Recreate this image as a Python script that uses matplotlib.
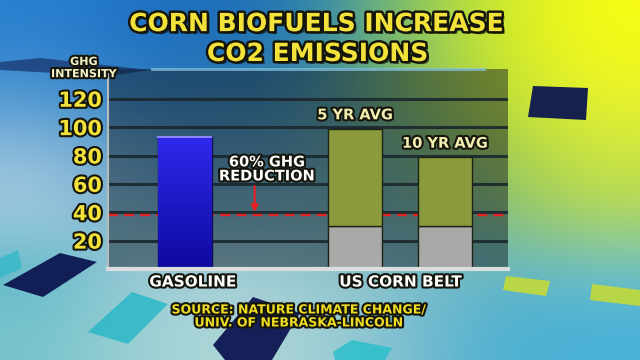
import numpy as np
import matplotlib
matplotlib.use("Agg")
import matplotlib.pyplot as plt
import matplotlib.patheffects as pe
from matplotlib.colors import to_rgb
from matplotlib.patches import Polygon

plt.rcParams['font.family'] = ['DejaVu Sans']

# ---------------- data ----------------
title_lines = ["CORN BIOFUELS INCREASE", "CO2 EMISSIONS"]
y_label_lines = ["GHG", "INTENSITY"]
y_ticks = [20, 40, 60, 80, 100, 120]
gasoline_value = [93]
corn_labels = ["5 YR AVG", "10 YR AVG"]
corn_base = [30, 30]        # grey lower part
corn_top = [69, 49]         # olive upper part
target_level = 38           # 60% reduction line
category_labels = ["GASOLINE", "US CORN BELT"]
note_lines = ["60% GHG", "REDUCTION"]
source_lines = ["SOURCE: NATURE CLIMATE CHANGE/", "UNIV. OF NEBRASKA-LINCOLN"]

# ---------------- figure ----------------
fig = plt.figure(figsize=(6.4, 3.6), dpi=100)

# background gradient (decoration)
grid_hex = [
    ["#2a80d0", "#1f72c4", "#1c6cb8", "#2f86b0", "#8cc860", "#d4ec28", "#f6fc14"],
    ["#4a94d0", "#2c7cc0", "#2a74b0", "#3f8ca8", "#88c058", "#c8e434", "#ecf42a"],
    ["#8cbcdc", "#5c9cc8", "#4f90b8", "#5a9cb0", "#78b478", "#a8d048", "#d0e840"],
    ["#a8cce0", "#78b0cc", "#6aa8c0", "#74b0b8", "#6aa8a8", "#8cc070", "#b4d858"],
    ["#5cb8c8", "#a0ccd8", "#a8d0d8", "#98c8d0", "#80c0cc", "#64b4c4", "#70c0c8"],
    ["#78c4cc", "#9cd0d4", "#b0d8d8", "#a4d0d4", "#78bcd0", "#4cb0d0", "#48b0d8"],
]
grid = np.array([[to_rgb(c) for c in row] for row in grid_hex])
bg = fig.add_axes([0, 0, 1, 1])
bg.imshow(grid, extent=[0, 640, 360, 0], aspect='auto', interpolation='bicubic')
bg.set_xlim(0, 640)
bg.set_ylim(360, 0)
bg.axis('off')
bg.set_zorder(0)

deco = [
    ([(3, 285), (60, 253), (97, 262), (43, 297)], "#0c1650", 0.95),
    ([(213, 345), (253, 297), (300, 313), (272, 360), (225, 360)], "#0c1650", 0.95),
    ([(88, 332), (132, 292), (168, 304), (128, 344)], "#2cb8c8", 0.85),
    ([(0, 258), (18, 250), (22, 268), (0, 278)], "#2cb8c8", 0.7),
    ([(333, 352), (352, 340), (392, 348), (385, 360), (335, 360)], "#2cc0cc", 0.85),
    ([(533, 86), (588, 88), (586, 120), (528, 117)], "#0c1650", 0.95),
    ([(506, 276), (550, 281), (546, 296), (503, 290)], "#c8dc30", 0.85),
    ([(592, 284), (640, 290), (640, 306), (590, 300)], "#c8dc30", 0.85),
    ([(0, 62), (40, 58), (150, 70), (110, 76), (0, 70)], "#16306a", 0.7),
]
for pts, col, a in deco:
    bg.add_patch(Polygon(pts, closed=True, facecolor=col, edgecolor='none', alpha=a))

ax = fig.add_axes([0.169, 0.2528, 0.625, 0.5556])
ax.set_zorder(1)
ax.set_facecolor((0.07, 0.11, 0.15, 0.48))

pos_gas = [0.0]
pos_corn = [1.9, 2.9]
bar_w = 0.6

yellow = "#f2e23a"
outline = [pe.withStroke(linewidth=3, foreground="#15150c")]
shadow_outline = [pe.SimplePatchShadow(offset=(2, -2), shadow_rgbFace="#000000", alpha=0.6),
                  pe.withStroke(linewidth=3.5, foreground="#15150c")]

# grid
ax.set_yticks(y_ticks)
ax.yaxis.grid(True, color="#1a282e", lw=2.2, alpha=0.9)
ax.set_axisbelow(True)

# target dashed line
ax.axhline(target_level, color="#e52222", lw=1.7, dashes=(4.2, 2.6), zorder=1.5)

# gasoline bar with vertical gradient
gb = ax.bar(pos_gas, gasoline_value, width=bar_w, color="#1a12cc",
            edgecolor="#10104a", lw=1, zorder=2)
grad = np.linspace(0, 1, 64).reshape(-1, 1)
c_top = np.array(to_rgb("#3028ec"))
c_bot = np.array(to_rgb("#0e0aa0"))
img = c_bot + (c_top - c_bot) * grad
img = img.reshape(64, 1, 3)
for p in gb.patches:
    x0, w, h = p.get_x(), p.get_width(), p.get_height()
    im = ax.imshow(img, extent=[x0, x0 + w, 0, h], origin='lower',
                   aspect='auto', zorder=2.1, interpolation='bilinear')
    im.set_clip_path(p)
    ax.plot([x0 + 0.01, x0 + w - 0.01], [h, h], color="#8a86ff", lw=1.5, zorder=2.2)

# corn bars
ax.bar(pos_corn, corn_base, width=bar_w, color="#a9a9a7",
       edgecolor="#1e2414", lw=1, zorder=2)
ax.bar(pos_corn, corn_top, bottom=corn_base, width=bar_w, color="#8c9a3e",
       edgecolor="#1e2414", lw=1, zorder=2)

for x, b, t, lab in zip(pos_corn, corn_base, corn_top, corn_labels):
    ax.annotate(lab, xy=(x, b + t), xytext=(0, 4.5), textcoords='offset points',
                ha='center', va='bottom', fontsize=10.5, fontweight='bold',
                color="#f2eeb0", path_effects=outline, zorder=5)

# note and arrow
mid_x = (pos_gas[0] + pos_corn[0]) / 2
ax.text(mid_x - 0.03, 75.5, note_lines[0], ha='center', va='center', fontsize=10.5,
        fontweight='bold', color="white", path_effects=outline, zorder=5)
ax.text(mid_x - 0.03, 65.6, note_lines[1], ha='center', va='center', fontsize=10.5,
        fontweight='bold', color="white", path_effects=outline, zorder=5)
ax.annotate("", xy=(mid_x - 0.17, target_level + 2), xytext=(mid_x - 0.17, 58.5),
            arrowprops=dict(arrowstyle="-|>", color="#e52222", lw=1.6,
                            mutation_scale=10, shrinkA=0, shrinkB=0), zorder=5)

# axes styling
ax.set_xlim(-0.85, 3.6)
ax.set_ylim(0, 141)
ax.set_xticks([])
for s in ["top", "right"]:
    ax.spines[s].set_visible(False)
ax.spines["left"].set_color("#b4bcbc")
ax.spines["left"].set_linewidth(1.5)
ax.spines["bottom"].set_color("#dadede")
ax.spines["bottom"].set_linewidth(3)
ax.tick_params(axis='y', length=0, pad=4.5)
for lbl in ax.get_yticklabels():
    lbl.set_fontsize(15)
    lbl.set_fontweight('bold')
    lbl.set_color(yellow)
    lbl.set_path_effects(outline)

# faint top line
ax.axhline(141, xmin=0.11, xmax=0.94, color="#86c4e4", lw=2, alpha=0.75, clip_on=False)

# category labels
cat_x = [pos_gas[0] + 0.09, sum(pos_corn) / len(pos_corn)]
for x, lab in zip(cat_x, category_labels):
    ax.text(x, -0.065, lab, transform=ax.get_xaxis_transform(), ha='center', va='center',
            fontsize=11, fontweight='bold', color="white", path_effects=outline)

# title
fig.text(0.494, 0.933, title_lines[0], ha='center', va='center', fontsize=18,
         fontweight='bold', color=yellow, path_effects=shadow_outline)
fig.text(0.496, 0.850, title_lines[1], ha='center', va='center', fontsize=18,
         fontweight='bold', color=yellow, path_effects=shadow_outline)

# y label
fig.text(0.131, 0.828, y_label_lines[0], ha='center', va='center', fontsize=8,
         fontweight='bold', color="#f4f0c8", path_effects=outline)
fig.text(0.131, 0.794, y_label_lines[1], ha='center', va='center', fontsize=8,
         fontweight='bold', color="#f4f0c8", path_effects=outline)

# source
fig.text(0.466, 0.139, source_lines[0], ha='center', va='center', fontsize=9,
         fontweight='bold', color="#eedc22", path_effects=outline)
fig.text(0.466, 0.103, source_lines[1], ha='center', va='center', fontsize=9,
         fontweight='bold', color="#eedc22", path_effects=outline)

fig.savefig("out.png", dpi=100)
